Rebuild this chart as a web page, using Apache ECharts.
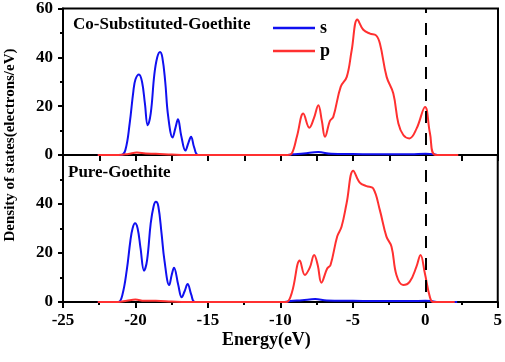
<!DOCTYPE html>
<html lang="en">
<head>
    <meta charset="UTF-8">
    <title>DOS</title>
    <script src="https://cdn.jsdelivr.net/npm/echarts@6/dist/echarts.min.js"></script>
    <style>
        *{
            padding:0;
            margin:0;
        }
        #main{
            width:505px;
            height:362px;
            background:#fff;
        }
    </style>
</head>
<body>
    <div id="main"></div>
    <script>
        // Co-Substituted-Goethite
        var coS_E=[-22.6,-21.0,-20.7,-20.4,-20.15,-20.0,-19.76,-19.55,-19.35,-19.16,-18.95,-18.7,-18.5,-18.31,-18.15,-17.95,-17.75,-17.44,-17.25,-17.07,-16.85,-16.56,-16.35,-16.17,-15.95,-15.67,-14,-9.6,-9.2,-8.4,-7.4,-6.5,-5,-3,-1,0,0.6,0.9,2.2]
        var coS_V=[0,0,2,13,26,31,33,30,21,12.2,17,33,40,42.2,40,30,16,7.2,11,14.6,8,1.8,5,7.5,3,0,0,0,0.3,0.6,1.2,0.5,0.4,0.3,0.3,0.5,0.3,0,0]
        var coP_E=[-22.6,-21.2,-20.5,-19.9,-19.3,-18.6,-17.5,-16.5,-15,-10,-9.5,-9.23,-8.85,-8.43,-8.01,-7.7,-7.39,-7.15,-6.93,-6.59,-6.36,-5.85,-5.43,-5.09,-4.70,-4.29,-3.83,-3.41,-3.14,-2.68,-2.22,-1.87,-1.53,-1.11,-0.61,-0.03,0.31,0.7,2.26]
        var coP_V=[0,0,0.4,1,0.6,0.5,0.2,0,0,0,0,0.5,8,17,11.2,15,20.4,14,7.5,14,15.6,27.9,32,42.9,55.5,51.3,49.7,49,45.6,32,25.2,12.9,8.2,6.8,10.9,19.7,8.8,0,0]
        // Pure-Goethite
        var pureS_E=[-22.6,-21.19,-20.9,-20.6,-20.35,-20.2,-20.03,-19.85,-19.65,-19.41,-19.2,-18.95,-18.75,-18.59,-18.42,-18.2,-18.0,-17.67,-17.5,-17.34,-17.05,-16.81,-16.6,-16.4,-16.15,-15.9,-14,-9.7,-9.3,-8.5,-7.6,-6.8,-5,-3,-1,0,0.5,0.9,2.2]
        var pureS_V=[0,0,3,13,25,30,32.1,30,22,12.8,17,32,39,40.9,39,28,17,6.9,11,14,7,1.9,4.5,7.3,3,0,0,0,0.4,0.7,1.2,0.6,0.5,0.4,0.4,0.5,0.3,0,0]
        var pureP_E=[-22.6,-21.2,-20.6,-20.0,-19.4,-18.6,-17.5,-16.5,-15,-10,-9.57,-9.2,-8.66,-8.31,-7.97,-7.67,-7.42,-7.17,-6.77,-6.54,-6.08,-5.78,-5.43,-4.97,-4.52,-4.06,-3.6,-3.14,-2.68,-2.33,-1.99,-1.53,-1.07,-0.61,-0.33,-0.03,0.31,0.54,2.03]
        var pureP_V=[0,0,0.5,1,0.5,0.5,0.2,0,0,0,0,4,16.9,11,14,19.2,15,7.9,13.7,15.1,26.7,30.7,40.3,53.6,48.7,47.3,46.4,37.6,26.7,22.6,11,6.9,8.3,14.4,19.2,11.7,2.2,0,0]
        var fermi=0
        var panelNames=["Co-Substituted-Goethite","Pure-Goethite"]

        function pairs(xs,ys){
            return xs.map(function(x,i){return [x,ys[i]]})
        }

        var font="Liberation Serif"
        var blue="#1010f0"
        var red="#ff3030"

        var myCharts=echarts.init(document.getElementById("main"))

        function xAxisOf(idx,labels){
            return {
                type:"value",
                gridIndex:idx,
                min:-25,
                max:5,
                interval:labels?5:2.5,
                splitLine:{show:false},
                axisLine:{onZero:false,lineStyle:{color:"#000",width:2}},
                axisTick:{length:6,lineStyle:{color:"#000",width:2}},
                minorTick:{show:labels,splitNumber:2,length:3,lineStyle:{color:"#000",width:2}},
                axisLabel:{show:labels,color:"#000",fontFamily:font,fontWeight:"bold",fontSize:17,margin:10},
                name:labels?"Energy(eV)":"",
                nameLocation:"middle",
                nameGap:29,
                nameTextStyle:{color:"#000",fontFamily:font,fontWeight:"bold",fontSize:18,padding:[0,28,0,0]}
            }
        }
        function yAxisOf(idx,showMax){
            return {
                type:"value",
                gridIndex:idx,
                min:0,
                max:60,
                interval:20,
                splitLine:{show:false},
                axisLine:{onZero:false,lineStyle:{color:"#000",width:2}},
                axisTick:{length:5,lineStyle:{color:"#000",width:2}},
                minorTick:{show:true,splitNumber:2,length:3,lineStyle:{color:"#000",width:2}},
                axisLabel:{color:"#000",fontFamily:font,fontWeight:"bold",fontSize:17,margin:10,showMaxLabel:showMax}
            }
        }
        function lineSeries(name,idx,data,color,withMark){
            var s={
                name:name,
                type:"line",
                xAxisIndex:idx,
                yAxisIndex:idx,
                data:data,
                smooth:0.4,
                symbol:"none",
                lineStyle:{color:color,width:2},
                itemStyle:{color:color}
            }
            if(withMark){
                s.markLine={
                    silent:true,
                    symbol:"none",
                    label:{show:false},
                    lineStyle:{color:"#000",type:[12,10],dashOffset:12,width:2},
                    data:[{xAxis:fermi}]
                }
            }
            return s
        }

        var option={
            animation:false,
            title:[
                {text:panelNames[0],left:73,top:16,padding:0,textStyle:{fontFamily:font,fontWeight:"bold",fontSize:17,color:"#000"}},
                {text:panelNames[1],left:68,top:164,padding:0,textStyle:{fontFamily:font,fontWeight:"bold",fontSize:17,color:"#000"}}
            ],
            legend:{
                data:["s","p"],
                orient:"vertical",
                left:273,
                top:19,
                padding:0,
                icon:"rect",
                itemWidth:42,
                itemHeight:2.5,
                itemGap:5,
                textStyle:{color:"#000",fontFamily:font,fontWeight:"bold",fontSize:18,lineHeight:18}
            },
            grid:[
                {left:63,top:8,width:435,height:147,show:true,borderColor:"#000",borderWidth:2},
                {left:63,top:155,width:435,height:147,show:true,borderColor:"#000",borderWidth:2}
            ],
            xAxis:[xAxisOf(0,false),xAxisOf(1,true)],
            yAxis:[yAxisOf(0,true),yAxisOf(1,false)],
            graphic:[{
                type:"text",
                x:10,
                y:145,
                rotation:Math.PI/2,
                style:{
                    text:"Density of states(electrons/eV)",
                    x:0,y:0,
                    align:"center",
                    verticalAlign:"middle",
                    fill:"#000",
                    font:"bold 15px 'Liberation Serif'"
                }
            }],
            series:[
                lineSeries("s",0,pairs(coS_E,coS_V),blue,false),
                lineSeries("p",0,pairs(coP_E,coP_V),red,true),
                lineSeries("s",1,pairs(pureS_E,pureS_V),blue,false),
                lineSeries("p",1,pairs(pureP_E,pureP_V),red,true)
            ]
        }

        myCharts.setOption(option)
        window.onresize=myCharts.resize
    </script>
</body>
</html>
